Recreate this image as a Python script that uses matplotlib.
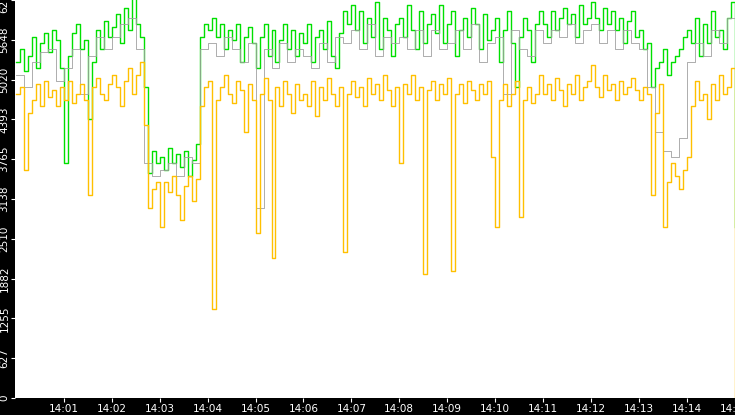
import numpy as np
import matplotlib
matplotlib.use("Agg")
import matplotlib.pyplot as plt

# samples every 5 s from 14:00:00
green = [5300, 5500, 5150, 5400, 5700, 5200, 5600, 5750, 5450, 5800, 5650, 5200,
         3700, 5400, 5750, 5900, 5500, 5650, 4400, 5300, 5800, 5500, 5950, 5700,
         5850, 6050, 5600, 6150, 5800, 6300, 5900, 5700, 4900, 3550, 3900, 3700,
         3800, 3600, 3950, 3700, 3850, 3650, 3900, 3500, 3750, 4000, 5700, 5900,
         5800, 6000, 5700, 5900, 5500, 5800, 5650, 5900, 5300, 5700, 5850, 5600,
         5200, 5700, 5900, 5400, 5800, 5300, 5650, 5900, 5500, 5800, 5400, 5750,
         5600, 5900, 5300, 5700, 5800, 5500, 5950, 5400, 5200, 5750, 6100, 5900,
         6200, 5800, 6100, 5600, 6000, 5700, 6250, 5500, 6000, 5800, 5400, 5900,
         6000, 5700, 6200, 5800, 5500, 6100, 5600, 5900, 6050, 5750, 6200, 5600,
         5900, 6100, 5400, 5800, 6000, 5700, 6150, 5900, 5500, 6050, 5650, 5800,
         6000, 5300, 5800, 6100, 5600, 4900, 5700, 6000, 5800, 5300, 5900, 6100,
         5900, 5700, 6100, 5800, 6000, 6150, 5900, 6050, 5700, 6200, 5900, 6000,
         6250, 6000, 5800, 6150, 5900, 6100, 5800, 6000, 5600, 5950, 6100, 5700,
         5800, 5500, 5600, 4900, 5200, 5300, 5500, 5100, 5300, 5400, 5500, 5700,
         5800, 5600, 6000, 5400, 5900, 5600, 6100, 5700, 5800, 5500, 6000, 6250,
         2700]

orange = [4800, 4900, 3600, 4500, 4700, 4950, 4600, 5000, 4750, 4850, 4600, 4900,
          4700, 5000, 4650, 4800, 4950, 4700, 3200, 4900, 5050, 4800, 4700, 4950,
          5100, 4900, 4600, 5000, 5200, 4800, 5100, 5300, 4300, 3000, 3300, 3400,
          2700, 3400, 3250, 3500, 3200, 2800, 3350, 3500, 3100, 3450, 4600, 4900,
          5000, 1400, 4700, 4900, 5100, 4800, 4650, 5000, 4850, 4200, 4950, 4700,
          2600, 4800, 5050, 4700, 2200, 4900, 4600, 5000, 4800, 4500, 4950, 4700,
          4800, 4600, 5000, 4450, 4900, 4700, 5050, 4800, 4600, 4900, 2300, 4800,
          5000, 4750, 4900, 4600, 5050, 4800, 4950, 4700, 5100, 4850, 4600, 4900,
          3700, 4950, 4800, 5100, 4700, 4900, 1950, 4850, 5000, 4700, 4950, 4800,
          5050, 2000, 4800, 4950, 4650, 5000, 4850, 4700, 4950, 4800, 5000, 3800,
          2700, 4700, 4950, 4600, 4800, 5000, 2850, 4700, 4900, 4650, 4800, 5100,
          4800, 4950, 4700, 5050, 4850, 4600, 4950, 4800, 5100, 4700, 4900, 5000,
          5250, 4900, 4750, 5100, 4850, 4950, 4700, 5000, 4800, 4900, 5050, 4850,
          4700, 4900, 4800, 3200, 4500, 4950, 2700, 3400, 3700, 3500, 3300, 3600,
          3800, 4600, 5000, 4700, 4800, 4400, 4950, 4700, 5100, 4800, 4900, 5200,
          0]

# samples every 10 s
gray = [5100, 4900, 5300, 5450, 5500, 5000,
        5200, 5500, 4800, 5400, 5700, 5500,
        5700, 5900, 6000, 5500, 3700, 3500,
        3600, 3700, 3500, 3800, 3700, 5500,
        5600, 5400, 5700, 5500, 5300, 5600,
        3000, 5500, 5200, 5600, 5300, 5500,
        5400, 5200, 5600, 5300, 5700, 5600,
        5800, 5500, 5900, 5400, 5700, 5600,
        5700, 5500, 5800, 5400, 5800, 5500,
        5600, 5800, 5500, 5900, 5300, 5600,
        5700, 4800, 5800, 5500, 5400, 5800,
        5600, 5800, 5700, 5900, 5600, 5800,
        5900, 5600, 5800, 5500, 5800, 5600,
        5500, 4900, 4200, 3900, 3800, 4100,
        5300, 5600, 5400, 5800, 5600, 6000,
        2700]

yticks = [0, 627, 1255, 1882, 2510, 3138, 3765, 4393, 5020, 5648, 6276]
xticklabels = ["14:%02d" % m for m in range(1, 16)]

t5 = np.arange(len(green)) * 5
t10 = np.arange(len(gray)) * 10

fig = plt.figure(figsize=(7.35, 4.15), dpi=100, facecolor="black")
ax = fig.add_axes([15 / 735, 17 / 415, 720 / 735, 398 / 415])
ax.set_facecolor("white")

ax.plot(t5, green, color="#00e000", lw=1, drawstyle="steps-post")
ax.plot(t10, gray, color="#a0a0a0", lw=0.6, drawstyle="steps-post")
ax.plot(t5, orange, color="#ffc000", lw=1, drawstyle="steps-post")

ax.set_xlim(-1.25, 900.5)
ax.set_ylim(0, 6276)
ax.set_yticks(yticks)
ax.set_yticklabels([str(v) for v in yticks], rotation=90, va="center")
ax.set_xticks(np.arange(60, 901, 60))
ax.set_xticklabels(xticklabels)
ax.tick_params(colors="white", labelsize=7.5, length=3, pad=1)
for s in ax.spines.values():
    s.set_visible(False)

fig.savefig("out.png", dpi=100, facecolor="black")
